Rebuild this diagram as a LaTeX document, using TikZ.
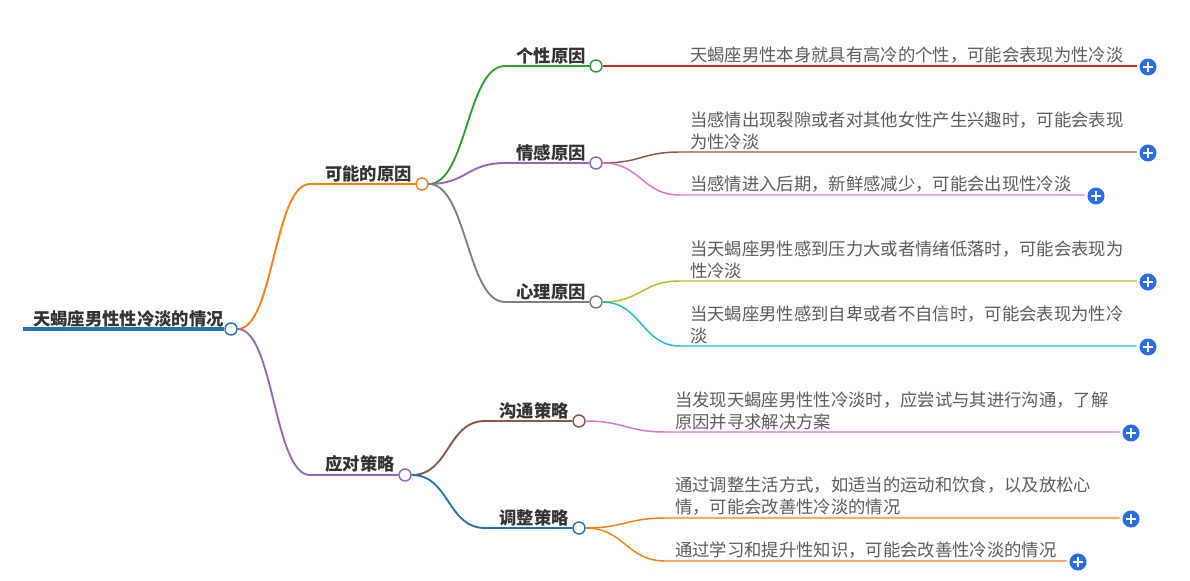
\documentclass[tikz,border=0pt]{standalone}
\usepackage{fontspec}
\setmainfont{Noto Sans CJK SC}
\definecolor{cblue}{HTML}{1F77B4}
\definecolor{corange}{HTML}{FF7F0E}
\definecolor{cgreen}{HTML}{2CA02C}
\definecolor{cred}{HTML}{D62728}
\definecolor{cpurple}{HTML}{9467BD}
\definecolor{cbrown}{HTML}{8C564B}
\definecolor{cpink}{HTML}{E377C2}
\definecolor{cgray}{HTML}{7F7F7F}
\definecolor{colive}{HTML}{BCBD22}
\definecolor{ccyan}{HTML}{17BECF}
\definecolor{plusblue}{HTML}{2A6EE6}
\definecolor{textdark}{HTML}{333333}
\definecolor{textgray}{HTML}{5C5C5C}

\begin{document}
\begin{tikzpicture}[
    x=0.75pt, y=-0.75pt,
    every node/.style={font=\fontsize{13pt}{16.5pt}\selectfont},
    knob/.style={circle, draw, fill=white, line width=1.1pt, minimum size=9pt, inner sep=0pt},
    head/.style={font=\fontsize{13pt}{16.5pt}\selectfont\bfseries, text=textdark, inner sep=0pt},
    leaf/.style={text=textgray, anchor=south west, align=left, inner sep=0pt},
    plus/.style={circle, fill=plusblue, minimum size=12.8pt, inner sep=0pt,
        path picture={\draw[white, line width=1.3pt]
            ([xshift=-3.4pt]path picture bounding box.center) -- ([xshift=3.4pt]path picture bounding box.center)
            ([yshift=-3.4pt]path picture bounding box.center) -- ([yshift=3.4pt]path picture bounding box.center);}},
    branch/.style={line width=1.4pt},
    twig/.style={line width=1.1pt},
]

\fill[white] (0,0) rectangle (1190,581);
\useasboundingbox (0,0) rectangle (1190,581);

% ---------------------------------------------------------------- root
\coordinate (root-l) at (23,329);
\node[knob, draw=cblue] (root) at (231,329) {};
\node[head, anchor=south west] (root-t) at (33,327) {天蝎座男性性冷淡的情况};
\draw[cblue, line width=2.3pt] (root-l) -- (root.west);

% ---------------------------------------------------------------- level 1
\foreach \name/\y/\x/\col/\txt in {cause/184/422/corange/可能的原因,
                                   plan/475/405/cpurple/应对策略}{
    \coordinate (\name-l) at (310,\y);
    \node[knob, draw=\col] (\name) at (\x,\y) {};
    \draw[branch, color=\col] (root.east) .. controls +(36,0) and +(-36,0) .. (\name-l) -- (\name.west);
    \node[head, anchor=south east] (\name-t) at (\x-10,\y-2) {\txt};
}

% ---------------------------------------------------------------- level 2
\foreach \up/\name/\y/\x/\sx/\col/\txt in {cause/pers/66/596/505/cgreen/个性原因,
                                           cause/emo/163/596/505/cpurple/情感原因,
                                           cause/psy/302/596/505/cgray/心理原因,
                                           plan/comm/421/579/485/cbrown/沟通策略,
                                           plan/adj/528/579/485/cblue/调整策略}{
    \coordinate (\name-l) at (\sx,\y);
    \node[knob, draw=\col] (\name) at (\x,\y) {};
    \draw[branch, color=\col] (\up.east) .. controls +(38,0) and +(-38,0) .. (\name-l) -- (\name.west);
    \node[head, anchor=south east] (\name-t) at (\x-10,\y-2) {\txt};
}

% ---------------------------------------------------------------- leaves
\foreach \up/\name/\y/\sx/\px/\col/\txt in {
    pers/p1/66/680/1148/cred/{天蝎座男性本身就具有高冷的个性，可能会表现为性冷淡},
    emo/e1/152/680/1148/cbrown/{当感情出现裂隙或者对其他女性产生兴趣时，可能会表现\\为性冷淡},
    emo/e2/195/680/1096/cpink/{当感情进入后期，新鲜感减少，可能会出现性冷淡},
    psy/s1/281/680/1148/colive/{当天蝎座男性感到压力大或者情绪低落时，可能会表现为\\性冷淡},
    psy/s2/346/680/1148/ccyan/{当天蝎座男性感到自卑或者不自信时，可能会表现为性冷\\淡},
    comm/c1/432/665/1131/cpink/{当发现天蝎座男性性冷淡时，应尝试与其进行沟通，了解\\原因并寻求解决方案},
    adj/a1/518/665/1131/corange/{通过调整生活方式，如适当的运动和饮食，以及放松心\\情，可能会改善性冷淡的情况},
    adj/a2/561/665/1078/corange/{通过学习和提升性知识，可能会改善性冷淡的情况}}{
    \coordinate (\name-l) at (\sx,\y);
    \node[plus] (\name) at (\px,\y+1) {};
    \draw[twig, color=\col] (\up.east) .. controls +(38,0) and +(-38,0) .. (\name-l)
        -- ([xshift=-2pt]\name.west |- \name-l);
    \node[leaf] (\name-t) at (\sx+10,\y-2) {\txt};
}

\end{tikzpicture}
\end{document}
